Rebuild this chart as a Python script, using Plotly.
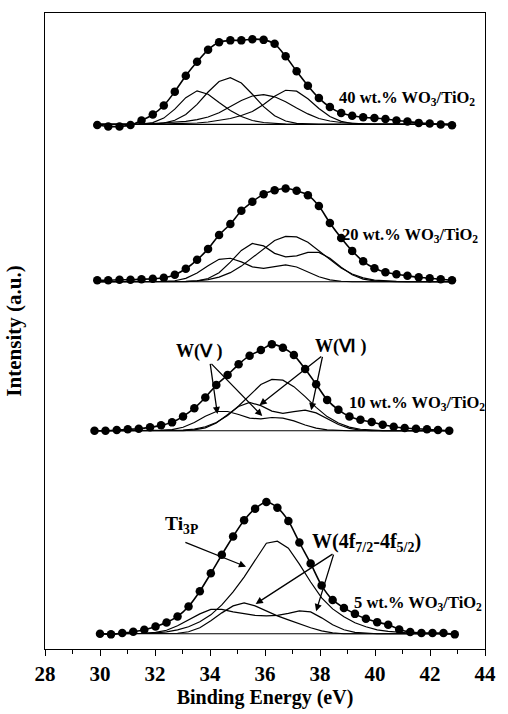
import plotly.graph_objects as go

# ---------------- data ----------------
be_grid = [30.00, 30.40, 30.81, 31.21, 31.61, 32.02, 32.42, 32.82, 33.22, 33.63,
           34.03, 34.43, 34.84, 35.24, 35.64, 36.05, 36.45, 36.85, 37.25, 37.66,
           38.06, 38.46, 38.87, 39.27, 39.67, 40.08, 40.48, 40.88, 41.28, 41.69,
           42.09, 42.49, 42.90]

tick_vals = [28, 30, 32, 34, 36, 38, 40, 42, 44]
tick_labels = ["28", "30", "32", "34", "36", "38", "40", "42", "44"]

samples = ["5", "10", "20", "40"]
energy_shift = {"5": 0.0, "10": -0.2, "20": -0.1, "40": -0.1}

dots_5 = [0, -0.6, 0.7, 2, 4, 7.4, 11.4, 17.4, 27.4, 42.7, 60.7, 79.4, 97.7, 114, 125.7,
          132.4, 126.7, 113.4, 91.7, 70.7, 48.4, 34, 26, 20, 15, 11.7, 9, 4.4, 1.7, 0.7,
          0.7, 0.7, -0.6]
ti_5 = [0, 0, 0, 0, 0.3, 1, 2, 4, 7, 12, 19, 29, 42, 57, 74, 91, 93, 86, 70, 52, 36, 25,
        17, 11, 7, 4, 2.5, 1.5, 0.8, 0.4, 0, 0, 0]
wa_5 = [0, 0, 0, 0, 0.5, 1.5, 3.5, 8, 14, 20, 24.5, 24.5, 22, 20, 18.5, 18, 18.5, 20.5,
        23, 22, 16, 9, 4, 1.5, 0.5, 0, 0, 0, 0, 0, 0, 0, 0]
wb_5 = [0, 0, 0, 0, 0, 0, 0, 0.5, 2, 6, 13, 21, 28, 31, 28, 23, 18, 14, 10, 6, 3, 1, 0,
        0, 0, 0, 0, 0, 0, 0, 0, 0, 0]

dots_10 = [0, 0, 0.7, 1.4, 2, 3.4, 5.4, 8.4, 14.4, 22.7, 33.4, 46, 56, 66.7, 75.4, 81, 87,
           83.4, 76, 62, 46.7, 31, 21, 14.4, 11, 8.7, 6, 4, 2.7, 2, 1.4, 0.7, 0]
ti_10 = [0, 0, 0, 0, 0, 0, 0, 0.2, 0.6, 1.7, 4.0, 8.3, 15.3, 24.8, 35.6, 46.4, 51.5, 50.8,
         44.3, 34.3, 23.5, 14.2, 7.7, 3.7, 1.5, 0.5, 0.2, 0, 0, 0, 0, 0, 0]
w6_10 = [0, 0, 0, 0, 0, 0, 0, 0, 0.2, 0.8, 2.9, 7.8, 15.9, 24.3, 28.4, 25.2, 19.7, 17.5,
         19.2, 20.7, 17.9, 12.1, 6.2, 2.4, 0.7, 0.2, 0, 0, 0, 0, 0, 0, 0]
w5_10 = [0, 0, 0, 0, 0, 0, 0.3, 1.1, 3.5, 8.2, 14.5, 19.3, 19.3, 16.3, 12.6, 12.0, 13.3,
         12.7, 9.9, 5.8, 2.6, 0.9, 0.2, 0, 0, 0, 0, 0, 0, 0, 0, 0, 0]

dots_20 = [1.5, 1.5, 2, 2, 2.5, 3, 4, 7, 13, 22, 33, 47, 58, 71.3, 80.3, 88, 92, 93.7,
           91.5, 87, 76, 59, 44, 31, 20.5, 13.5, 9.5, 7.5, 6, 4.5, 3.5, 2.5, 1.5]
t_20 = [0, 0, 0, 0, 0, 0, 0, 0.1, 0.3, 0.9, 2.2, 4.6, 9.1, 15.7, 24.2, 33.6, 41.4, 45.6,
        45.0, 39.6, 31.1, 21.9, 13.7, 7.7, 3.9, 1.7, 0.7, 0.3, 0, 0, 0, 0, 0]
s_20 = [0, 0, 0, 0, 0, 0, 0, 0, 0.2, 0.8, 3.2, 9.1, 19.7, 31.5, 38.4, 36.0, 28.5, 25, 26,
        29.5, 29.5, 23.5, 14.5, 7, 2.6, 0.8, 0.2, 0, 0, 0, 0, 0, 0]
r_20 = [0, 0, 0, 0, 0, 0, 0.3, 1.0, 3.4, 8.7, 16.1, 22.5, 23.6, 19.9, 14.9, 13.5, 15.4,
        16.9, 14.8, 9.9, 5.0, 1.9, 0.5, 0, 0, 0, 0, 0, 0, 0, 0, 0, 0]

dots_40 = [-0.5, -2, -2, -0.5, 4, 10, 19, 33, 49, 63, 75, 82.5, 84.5, 84.5, 85.7, 85, 81,
           68.5, 53.5, 39, 26.5, 17.5, 11.5, 8.8, 7.3, 6.4, 5.5, 4, 3, 1.6, 1, 0, -0.7]
a_40 = [0, 0, 0, 0, 0.4, 1.9, 6.4, 15.4, 26.9, 33.8, 30.4, 22, 14, 8, 4, 2, 1, 0.4, 0, 0,
        0, 0, 0, 0, 0, 0, 0, 0, 0, 0, 0, 0, 0]
b_40 = [0, 0, 0, 0, 0, 0.4, 1.4, 4.2, 10.1, 20.2, 32.6, 43.2, 47, 41.7, 30.4, 17.9, 8.8,
        3.5, 1.2, 0.3, 0, 0, 0, 0, 0, 0, 0, 0, 0, 0, 0, 0, 0]
c_40 = [0, 0, 0, 0, 0.5, 1, 1.5, 2.2, 3.2, 4.8, 7.5, 11.8, 18, 24.1, 28.6, 30, 27.8, 22.8,
        16.6, 10.6, 6.0, 3.5, 2, 1.2, 0.7, 0.4, 0.2, 0, 0, 0, 0, 0, 0]
d_40 = [0, 0, 0, 0, 0, 0.3, 0.5, 0.8, 1.1, 1.5, 2.5, 4, 6, 9, 13, 20, 28.4, 34.4, 33.5,
        25.9, 16.1, 8.0, 3.1, 1.0, 0.3, 0, 0, 0, 0, 0, 0, 0, 0]

measured = {"5": dots_5, "10": dots_10, "20": dots_20, "40": dots_40}
components = {"5": [ti_5, wa_5, wb_5],
              "10": [ti_10, w6_10, w5_10],
              "20": [t_20, s_20, r_20],
              "40": [a_40, b_40, c_40, d_40]}

# vertical stacking offsets of each spectrum (intensity units)
offsets = {"5": 15.3, "10": 219.3, "20": 369, "40": 527}

sample_labels = {"5": "5 wt.% WO<sub>3</sub>/TiO<sub>2</sub>",
                 "10": "10 wt.% WO<sub>3</sub>/TiO<sub>2</sub>",
                 "20": "20 wt.% WO<sub>3</sub>/TiO<sub>2</sub>",
                 "40": "40 wt.% WO<sub>3</sub>/TiO<sub>2</sub>"}

# ---------------- figure ----------------
SERIF = "Liberation Serif"
fig = go.Figure()

for s in samples:
    xs = [e + energy_shift[s] for e in be_grid]
    off = offsets[s]
    fig.add_trace(go.Scatter(x=[xs[0], xs[-1]], y=[off, off], mode="lines",
                             line=dict(color="black", width=1.2), hoverinfo="skip"))
    for comp in components[s]:
        fig.add_trace(go.Scatter(x=xs, y=[v + off for v in comp], mode="lines",
                                 line=dict(color="black", width=1.2)))
    fig.add_trace(go.Scatter(x=xs, y=[v + off for v in measured[s]], mode="lines+markers",
                             line=dict(color="black", width=1.6, shape="spline", smoothing=0.7),
                             marker=dict(color="black", size=8.5)))

label_pos = {"5": (39.15, 46), "10": (38.98, 247), "20": (38.72, 416), "40": (38.62, 554)}
annotations = []
for s in samples:
    lx, ly = label_pos[s]
    annotations.append(dict(x=lx, y=ly, text="<b>" + sample_labels[s] + "</b>",
                            showarrow=False, xanchor="left", yanchor="middle",
                            font=dict(family=SERIF, size=16.5, color="black")))

annotations += [
    dict(x=32.28, y=125, text="<b>Ti<sub>3P</sub></b>", showarrow=False, xanchor="left",
         yanchor="middle", font=dict(family=SERIF, size=19.5, color="black")),
    dict(x=37.62, y=107, text="<b>W(4f<sub>7/2</sub>-4f<sub>5/2</sub>)</b>", showarrow=False,
         xanchor="left", yanchor="middle", font=dict(family=SERIF, size=20, color="black")),
    dict(x=32.7, y=299, text="<b>W(Ⅴ )</b>", showarrow=False, xanchor="left",
         yanchor="middle", font=dict(family=SERIF, size=18, color="black")),
    dict(x=37.73, y=304, text="<b>W(Ⅵ )</b>", showarrow=False, xanchor="left",
         yanchor="middle", font=dict(family=SERIF, size=18, color="black")),
]

arrows = [
    ((33.05, 107.7), (35.31, 82.7)),   # Ti3P
    ((38.51, 96.3), (35.66, 45.3)),    # W(4f) left
    ((38.51, 96.3), (37.86, 38.0)),    # W(4f) right
    ((34.0, 288), (34.27, 236)),       # W(V)
    ((34.0, 288), (35.9, 234)),        # W(V)
    ((38.1, 295), (35.8, 245)),        # W(VI)
    ((38.1, 295), (37.68, 240)),       # W(VI)
]
for (tx, ty), (hx, hy) in arrows:
    annotations.append(dict(x=hx, y=hy, ax=tx, ay=ty, xref="x", yref="y", axref="x",
                            ayref="y", text="", showarrow=True, arrowhead=2, arrowsize=1.1,
                            arrowwidth=1.3, arrowcolor="black", standoff=0))

fig.update_layout(
    width=508, height=714,
    margin=dict(l=45, r=14, t=13, b=62),
    plot_bgcolor="white", paper_bgcolor="white",
    showlegend=False,
    annotations=annotations,
    font=dict(family=SERIF, color="black"),
    xaxis=dict(range=[28, 44], tickmode="array", tickvals=tick_vals,
               ticktext=["<b>" + t + "</b>" for t in tick_labels],
               ticks="outside", ticklen=6, tickwidth=1.3,
               tickcolor="black", showline=True, linecolor="black", linewidth=1.3,
               mirror=True, showgrid=False, zeroline=False,
               tickfont=dict(family=SERIF, size=21, color="black", weight=700),
               minor=dict(dtick=1, tick0=28, ticks="outside", ticklen=4, tickwidth=1.2,
                          tickcolor="black"),
               title=dict(text="<b>Binding Energy (eV)</b>", standoff=2,
                          font=dict(family=SERIF, size=20, color="black"))),
    yaxis=dict(range=[0, 639], showticklabels=False, ticks="", showline=True,
               linecolor="black", linewidth=1.3, mirror=True, showgrid=False, zeroline=False,
               title=dict(text="<b>Intensity (a.u.)</b>", standoff=16,
                          font=dict(family=SERIF, size=21, color="black"))),
)

fig.write_html("out.html", config={"displayModeBar": False},
               post_script="document.body.style.margin='0';")
